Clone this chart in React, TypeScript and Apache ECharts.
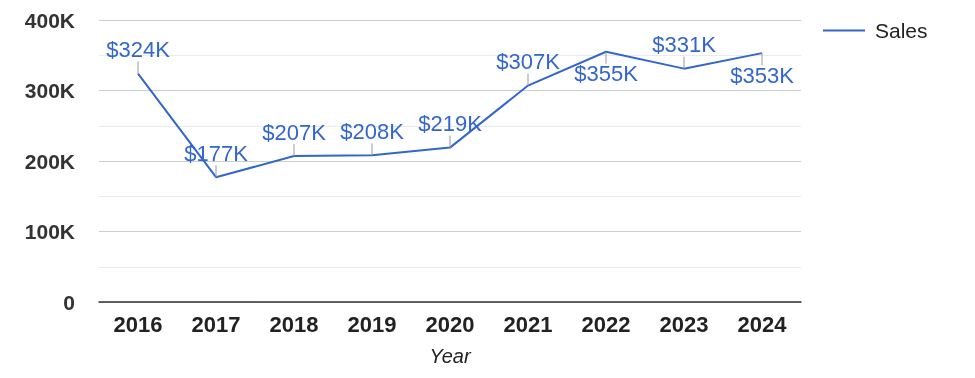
import React, { useEffect, useRef } from "react";
import * as echarts from "echarts";

const years = ["2016", "2017", "2018", "2019", "2020", "2021", "2022", "2023", "2024"];
const sales = [324000, 177000, 207000, 208000, 219000, 307000, 355000, 331000, 353000];
const salesLabels = ["$324K", "$177K", "$207K", "$208K", "$219K", "$307K", "$355K", "$331K", "$353K"];
const labelSides = ["top", "top", "top", "top", "top", "top", "bottom", "top", "bottom"];
const yTicks = ["0", "100K", "200K", "300K", "400K"];

const FONT = "Arial, 'Liberation Sans', sans-serif";
const BLUE = "#3366cc";

export default function App() {
  const ref = useRef<HTMLDivElement>(null);
  useEffect(() => {
    const chart = echarts.init(ref.current!, null, { renderer: "svg" });
    chart.setOption({
      animation: false,
      grid: { left: 99, right: 174, top: 20, bottom: 76, containLabel: false },
      legend: {
        left: 818,
        top: 15,
        icon: "rect",
        itemWidth: 42,
        itemHeight: 2,
        itemGap: 10,
        data: ["Sales"],
        textStyle: { fontFamily: FONT, fontSize: 21, color: "#222", padding: [0, 0, 0, 5] },
      },
      xAxis: {
        type: "category",
        data: years,
        boundaryGap: true,
        name: "Year",
        nameLocation: "middle",
        nameGap: 44,
        nameTextStyle: { fontFamily: FONT, fontSize: 20, fontStyle: "italic", color: "#222" },
        axisLine: { show: true, lineStyle: { color: "#333", width: 1.5 } },
        axisTick: { show: false },
        axisLabel: { fontFamily: FONT, fontSize: 22, fontWeight: "bold", color: "#222", margin: 11 },
      },
      yAxis: {
        type: "value",
        min: 0,
        max: 400000,
        interval: 100000,
        axisLine: { show: false },
        axisTick: { show: false },
        axisLabel: {
          fontFamily: FONT,
          fontSize: 21,
          fontWeight: "bold",
          color: "#333",
          margin: 24,
          formatter: (v: number) => yTicks[Math.round(v / 100000)] ?? "",
        },
        splitLine: { show: true, lineStyle: { color: "#cccccc", width: 1 } },
        minorTick: { show: false, splitNumber: 2 },
        minorSplitLine: { show: true, lineStyle: { color: "#ebebeb", width: 1 } },
      },
      series: [
        {
          name: "Sales",
          type: "line",
          data: sales,
          showSymbol: false,
          symbol: "none",
          color: BLUE,
          lineStyle: { color: BLUE, width: 2 },
          z: 3,
        },
        {
          name: "annotations",
          type: "custom",
          data: sales.map((v, i) => [i, v]),
          z: 4,
          renderItem: (params: any, api: any) => {
            const i = params.dataIndex;
            const p = api.coord([api.value(0), api.value(1)]);
            const dir = labelSides[i] === "bottom" ? 1 : -1;
            const stemEnd = p[1] + dir * 12;
            const textY = dir === -1 ? p[1] - 24 : p[1] + 22;
            return {
              type: "group",
              children: [
                {
                  type: "line",
                  shape: { x1: p[0], y1: p[1], x2: p[0], y2: stemEnd },
                  style: { stroke: "#999999", lineWidth: 1 },
                },
                {
                  type: "text",
                  x: p[0],
                  y: textY,
                  style: {
                    text: salesLabels[i],
                    fill: BLUE,
                    font: `22px ${FONT}`,
                    align: "center",
                    verticalAlign: "middle",
                  },
                },
              ],
            };
          },
        },
      ],
    });
    return () => chart.dispose();
  }, []);
  return (
    <div
      ref={ref}
      style={{ position: "fixed", left: 0, top: 0, width: 975, height: 378 }}
    />
  );
}
